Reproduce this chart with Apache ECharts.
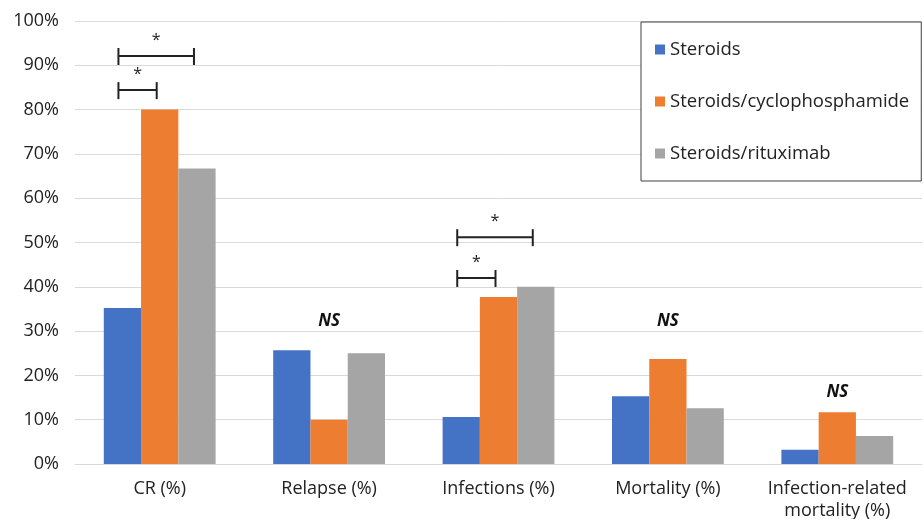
<!DOCTYPE html>
<html>
<head>
<meta charset="utf-8">
<script src="https://cdn.jsdelivr.net/npm/echarts@6/dist/echarts.min.js"></script>
<style>
  html, body { margin: 0; padding: 0; background: #fff; }
  #chart { width: 923px; height: 519px; }
</style>
</head>
<body>
<div id="chart"></div>
<script>
// categorias y valores (%)
var categorias = ['CR (%)', 'Relapse (%)', 'Infections (%)', 'Mortality (%)', 'Infection-related\nmortality (%)'];
var nombres = ['Steroids', 'Steroids/cyclophosphamide', 'Steroids/rituximab'];
var steroids = [35.2, 25.7, 10.6, 15.3, 3.2];
var cyclo = [80, 10, 37.7, 23.7, 11.7];
var rituximab = [66.7, 25, 40, 12.6, 6.3];
var colores = ['#4472C4', '#ED7D31', '#A5A5A5'];

// corchetes de significancia: [categoria, serie desde, serie hasta, altura %]
var corchetes = [
  [0, 0, 1, 84.4],
  [0, 0, 2, 92.1],
  [2, 0, 1, 42.0],
  [2, 0, 2, 51.2]
];
// etiquetas NS: [categoria, altura %]
var etiquetasNS = [
  [1, 32.3],
  [3, 32.3],
  [4, 16.3]
];

var fuente = 'Open Sans';
var chart = echarts.init(document.getElementById('chart'));

function serieBarra(i, datos) {
  return {
    name: nombres[i],
    type: 'bar',
    data: datos,
    barGap: '0%',
    barCategoryGap: '34%',
    itemStyle: { color: colores[i] }
  };
}

chart.setOption({
  animation: false,
  textStyle: { fontFamily: fuente },
  grid: { left: 75, right: 1, top: 21, bottom: 55, outerBoundsMode: 'none', containLabel: false },
  legend: {
    orient: 'vertical',
    data: nombres,
    left: 641,
    top: 22,
    padding: [18, 12, 18, 14],
    itemGap: 33,
    itemWidth: 10,
    itemHeight: 10,
    icon: 'rect',
    backgroundColor: '#fff',
    borderColor: '#404040',
    borderWidth: 1,
    textStyle: { fontSize: 18.5, color: '#222', fontFamily: fuente }
  },
  xAxis: {
    type: 'category',
    data: categorias,
    axisLine: { lineStyle: { color: '#d9d9d9' } },
    axisTick: { show: false },
    axisLabel: { interval: 0, fontSize: 18, color: '#222', margin: 14, lineHeight: 22 }
  },
  yAxis: {
    type: 'value',
    min: 0,
    max: 100,
    interval: 10,
    axisLabel: { formatter: '{value}%', fontSize: 18, color: '#222', margin: 16 },
    splitLine: { lineStyle: { color: '#d9d9d9' } },
    axisLine: { show: false }
  },
  series: [
    serieBarra(0, steroids),
    serieBarra(1, cyclo),
    serieBarra(2, rituximab),
    {
      type: 'custom',
      name: 'corchetes',
      data: corchetes,
      encode: { x: 0, y: 3 },
      z: 5,
      renderItem: function (params, api) {
        var centro = api.coord([api.value(0), api.value(3)]);
        var anchoBarra = api.size([1, 0])[0] * 0.66 / 3;
        var x1 = centro[0] + (api.value(1) - 1) * anchoBarra - 4;
        var x2 = centro[0] + (api.value(2) - 1) * anchoBarra - 3;
        var y = centro[1];
        var estilo = { stroke: '#222', lineWidth: 2 };
        return {
          type: 'group',
          children: [
            { type: 'line', shape: { x1: x1, y1: y, x2: x2, y2: y }, style: estilo },
            { type: 'line', shape: { x1: x1, y1: y - 8, x2: x1, y2: y + 9 }, style: estilo },
            { type: 'line', shape: { x1: x2, y1: y - 8, x2: x2, y2: y + 9 }, style: estilo },
            {
              type: 'text',
              style: {
                text: '*', x: (x1 + x2) / 2, y: y - 16,
                align: 'center', verticalAlign: 'middle',
                fontSize: 16, fill: '#222', fontFamily: fuente
              }
            }
          ]
        };
      }
    },
    {
      type: 'custom',
      name: 'ns',
      data: etiquetasNS,
      encode: { x: 0, y: 1 },
      z: 5,
      renderItem: function (params, api) {
        var p = api.coord([api.value(0), api.value(1)]);
        return {
          type: 'text',
          style: {
            text: 'NS', x: p[0], y: p[1],
            align: 'center', verticalAlign: 'middle',
            fontSize: 17, fontWeight: 'bold', fontStyle: 'italic',
            fill: '#111', fontFamily: fuente
          }
        };
      }
    }
  ]
});
</script>
</body>
</html>
